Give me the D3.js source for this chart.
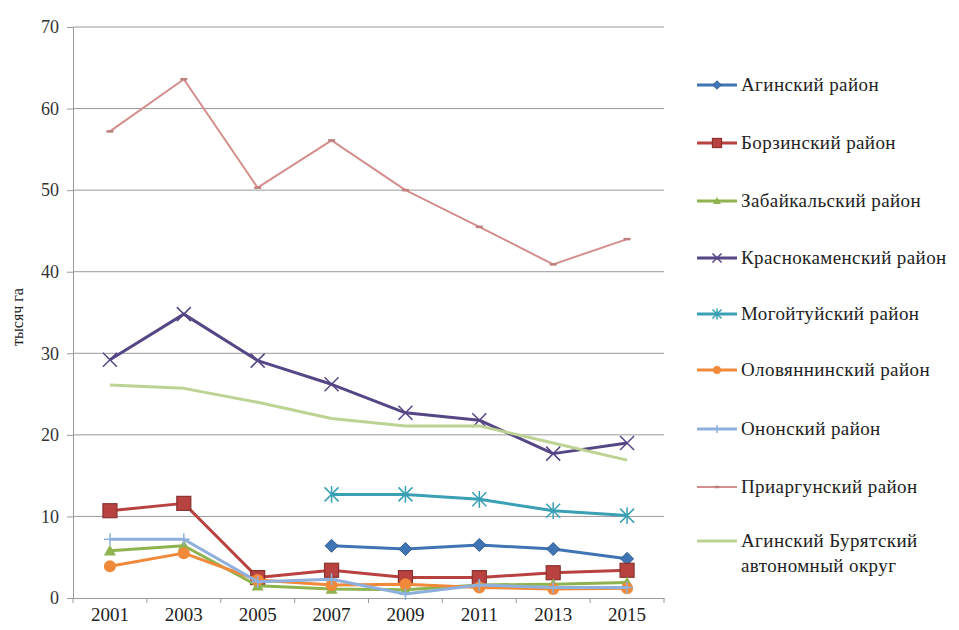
<!DOCTYPE html>
<html>
<head>
<meta charset="utf-8">
<script src="https://cdn.jsdelivr.net/npm/d3@7"></script>
<style>
  body { margin: 0; background: #fff; }
</style>
</head>
<body>
<script>
var svgWidth = 959;
var svgHeight = 630;
var serif = "'Liberation Serif', 'DejaVu Serif', 'Times New Roman', serif";

var years = ["2001", "2003", "2005", "2007", "2009", "2011", "2013", "2015"];
var yTicks = [0, 10, 20, 30, 40, 50, 60, 70];

var names = [
  "Агинский район",
  "Борзинский район",
  "Забайкальский район",
  "Краснокаменский район",
  "Могойтуйский район",
  "Оловяннинский район",
  "Ононский район",
  "Приаргунский район",
  "Агинский Бурятский автономный округ"
];

var aginsky      = [null, null, null, 6.4, 6.0, 6.5, 6.0, 4.8];
var borzinsky    = [10.7, 11.6, 2.5, 3.4, 2.5, 2.5, 3.1, 3.4];
var zabaikalsky  = [5.8, 6.4, 1.5, 1.1, 1.0, 1.6, 1.7, 1.9];
var krasnokam    = [29.2, 34.8, 29.1, 26.2, 22.7, 21.8, 17.7, 19.0];
var mogoituy     = [null, null, null, 12.7, 12.7, 12.1, 10.7, 10.1];
var olovyan      = [3.9, 5.5, 2.2, 1.6, 1.7, 1.3, 1.1, 1.2];
var ononsky      = [7.2, 7.2, 2.0, 2.3, 0.5, 1.6, 1.3, 1.3];
var priargunsky  = [57.2, 63.6, 50.3, 56.1, 50.0, 45.5, 40.9, 44.0];
var abao         = [26.1, 25.7, 24.0, 22.0, 21.1, 21.1, 19.0, 16.9];

var values = [aginsky, borzinsky, zabaikalsky, krasnokam, mogoituy, olovyan, ononsky, priargunsky, abao];
var colors = ["#3f74b5", "#b8423f", "#8fb34e", "#554785", "#3aa0b3", "#f08a3a", "#8fb0dc", "#d48f8d", "#bcd394"];
var markers = ["diamond", "square", "triangle", "x", "asterisk", "circle", "plus", "dash", "none"];
var widths = [3, 3, 3, 3, 3, 3, 3, 2, 3];

var Margin = { top: 27, left: 73 };
var plotRight = 664;
var plotBottom = 598;

var svg = d3.select("body").append("svg")
  .attr("width", svgWidth)
  .attr("height", svgHeight)
  .style("font-family", serif);

var xScale = d3.scaleBand().domain(years).range([Margin.left, plotRight]);
var yScale = d3.scaleLinear().domain([0, 70]).range([plotBottom, Margin.top]);
var cx = d => xScale(d) + xScale.bandwidth() / 2;

// gridlines
svg.append("g").selectAll("line")
  .data(yTicks.slice(1))
  .enter().append("line")
  .attr("x1", Margin.left).attr("x2", plotRight)
  .attr("y1", d => yScale(d)).attr("y2", d => yScale(d))
  .attr("stroke", "#9a9a9a").attr("stroke-width", 1);

// y axis
var yAxis = svg.append("g")
  .attr("transform", `translate(${Margin.left},0)`)
  .call(d3.axisLeft(yScale).tickValues(yTicks).tickSize(6).tickPadding(8));
yAxis.attr("font-family", serif);
yAxis.select(".domain").attr("stroke", "#9a9a9a");
yAxis.selectAll(".tick line").attr("stroke", "#9a9a9a");
yAxis.selectAll("text").style("font-size", "18px").style("font-family", serif).attr("fill", "#333");

// x axis
var xAxis = svg.append("g")
  .attr("transform", `translate(0,${plotBottom})`)
  .call(d3.axisBottom(xScale).tickSize(0).tickPadding(10));
xAxis.attr("font-family", serif);
xAxis.select(".domain").attr("stroke", "#9a9a9a");
xAxis.selectAll("text").style("font-size", "19px").style("font-family", serif).attr("fill", "#222");
xAxis.selectAll(".bnd")
  .data(years.map(d => xScale(d)).concat([plotRight]))
  .enter().append("line")
  .attr("x1", d => d).attr("x2", d => d)
  .attr("y1", 0).attr("y2", 5)
  .attr("stroke", "#9a9a9a");

svg.append("text")
  .attr("transform", "rotate(-90)")
  .attr("x", -317)
  .attr("y", 23)
  .style("text-anchor", "middle")
  .style("font-size", "16px")
  .style("font-family", serif)
  .attr("fill", "#222")
  .text("тысяч га");

function drawMarker(g, type, color, s) {
  var h = s / 2;
  if (type == "diamond") {
    g.append("path").attr("d", `M0,${-h}L${h},0L0,${h}L${-h},0Z`).attr("fill", color).attr("stroke", d3.color(color).darker(0.6)).attr("stroke-width", 1);
  } else if (type == "square") {
    g.append("rect").attr("x", -h).attr("y", -h).attr("width", s).attr("height", s)
      .attr("fill", color).attr("stroke", d3.color(color).darker(0.8)).attr("stroke-width", 1.2);
  } else if (type == "triangle") {
    g.append("path").attr("d", `M0,${-h}L${h},${h * 0.8}L${-h},${h * 0.8}Z`).attr("fill", color);
  } else if (type == "circle") {
    g.append("circle").attr("r", h).attr("fill", color);
  } else if (type == "x") {
    g.append("path").attr("d", `M${-h},${-h}L${h},${h}M${-h},${h}L${h},${-h}`).attr("stroke", color).attr("stroke-width", 1.5).attr("fill", "none");
  } else if (type == "asterisk") {
    g.append("path").attr("d", `M${-h},${-h}L${h},${h}M${-h},${h}L${h},${-h}M0,${-h * 1.2}L0,${h * 1.2}`).attr("stroke", color).attr("stroke-width", 1.5).attr("fill", "none");
  } else if (type == "plus") {
    g.append("path").attr("d", `M0,${-h}L0,${h}M${-h},0L${h},0`).attr("stroke", color).attr("stroke-width", 1.5).attr("fill", "none");
  } else if (type == "dash") {
    g.append("path").attr("d", `M${-h},0L${h},0`).attr("stroke", d3.color(color).darker(0.3)).attr("stroke-width", 2.5).attr("fill", "none");
  }
}

var markerSize = { diamond: 13, square: 14, triangle: 12, circle: 12, x: 14, asterisk: 14, plus: 12, dash: 7, none: 0 };

var line = d3.line()
  .defined(d => d.v != null)
  .x(d => cx(d.year))
  .y(d => yScale(d.v));

values.forEach(function(series, i) {
  var pts = years.map((y, j) => ({ year: y, v: series[j] }));
  svg.append("path")
    .datum(pts)
    .attr("d", line)
    .attr("fill", "none")
    .attr("stroke", colors[i])
    .attr("stroke-width", widths[i])
    .attr("stroke-linejoin", "round");
  pts.filter(d => d.v != null).forEach(function(d) {
    var g = svg.append("g").attr("transform", `translate(${cx(d.year)},${yScale(d.v)})`);
    drawMarker(g, markers[i], colors[i], markerSize[markers[i]]);
  });
});

// legend
var legend = svg.append("g");
var legendY = [85, 143, 201, 258, 314, 370, 429, 487, 541];
names.forEach(function(name, i) {
  var y = legendY[i];
  var item = legend.append("g").attr("transform", `translate(0,${y})`);
  item.append("line").attr("x1", 697).attr("x2", 737).attr("y1", 0).attr("y2", 0)
    .attr("stroke", colors[i]).attr("stroke-width", widths[i]);
  var g = item.append("g").attr("transform", "translate(717,0)");
  drawMarker(g, markers[i], colors[i], markerSize[markers[i]] * 0.65);
  var t = item.append("text").attr("x", 741).attr("y", 6)
    .style("font-size", "19px").style("letter-spacing", "0.4px")
    .style("font-family", serif).attr("fill", "#222");
  if (i == 8) {
    t.append("tspan").attr("x", 741).text("Агинский Бурятский");
    t.append("tspan").attr("x", 741).attr("dy", 25).text("автономный округ");
  } else {
    t.text(name);
  }
});
</script>
</body>
</html>
